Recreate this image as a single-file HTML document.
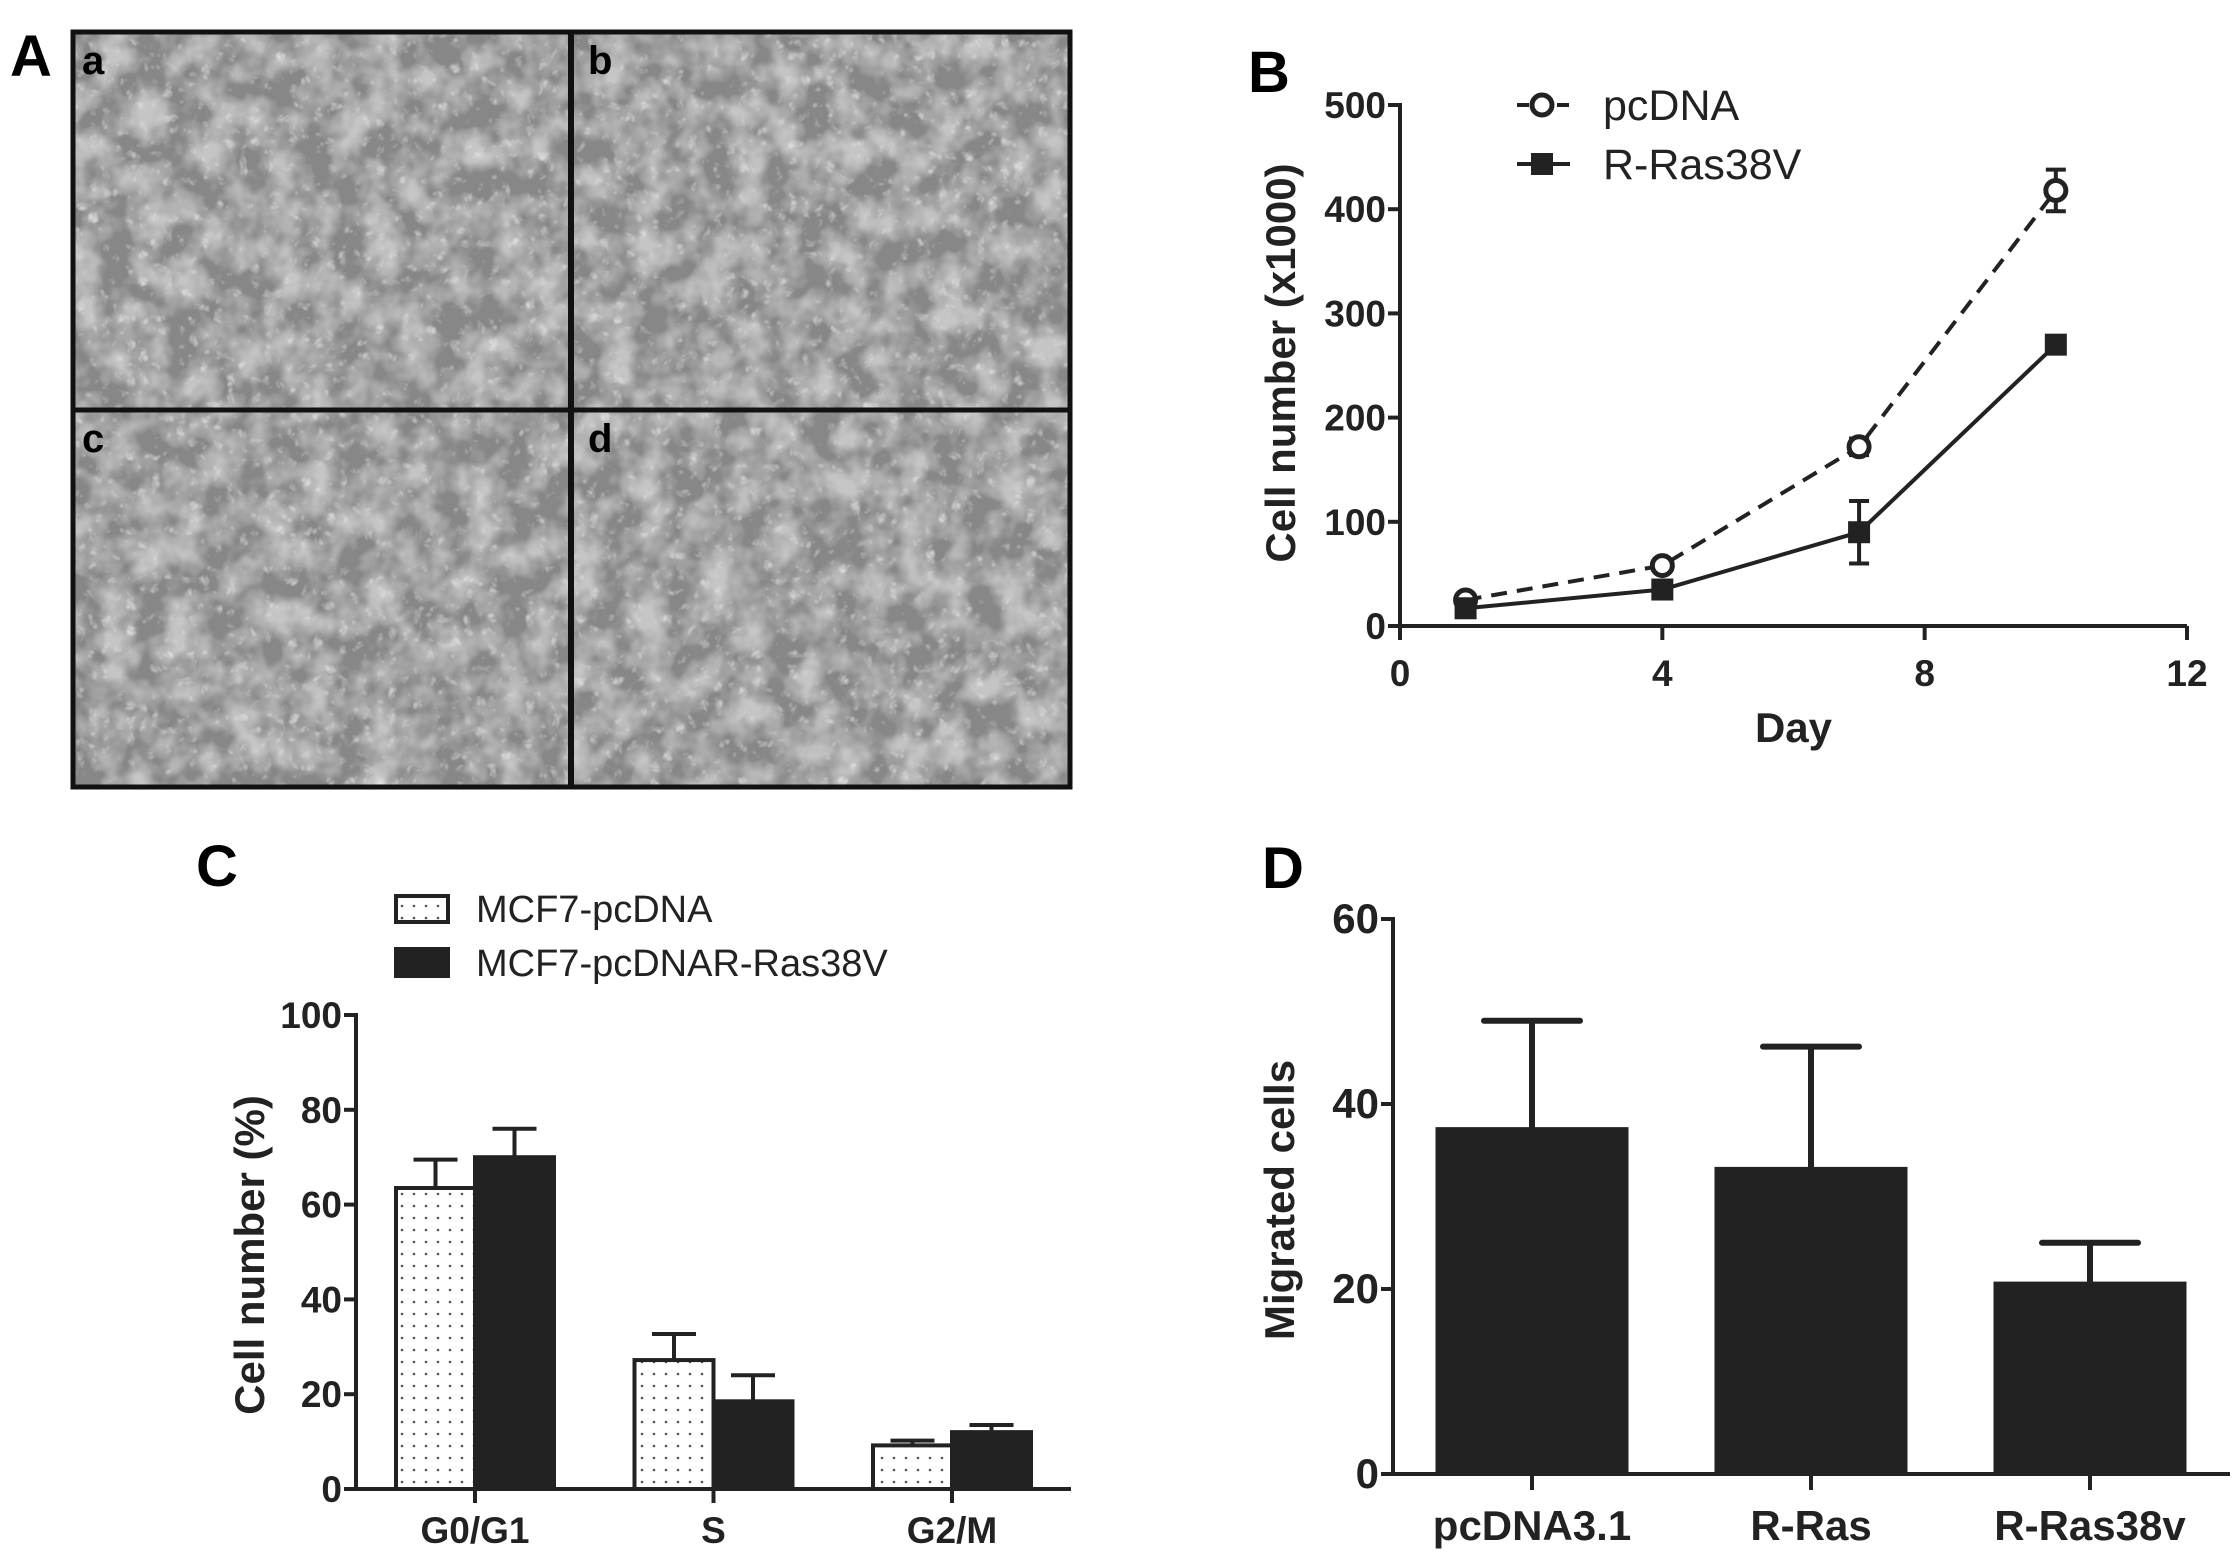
<!DOCTYPE html>
<html><head><meta charset="utf-8"><style>
html,body{margin:0;padding:0;background:#fff}
svg{display:block}
text{font-family:"Liberation Sans Narrow","Liberation Sans",sans-serif;fill:#222}
.tk{font-size:37px;font-weight:bold}
.ttl{font-family:"Liberation Sans",sans-serif;font-size:42px;font-weight:bold}
.lg{font-size:38px;font-weight:normal}
.pl{font-family:"Liberation Sans",sans-serif;font-size:58px;font-weight:bold;fill:#000}
</style></head><body>
<svg id="fig" width="2240" height="1552" viewBox="0 0 2240 1552" xmlns="http://www.w3.org/2000/svg">
<defs>
<filter id="cells" x="0" y="0" width="100%" height="100%">
<feTurbulence type="fractalNoise" baseFrequency="0.03" numOctaves="3" seed="4" result="n"/>
<feColorMatrix in="n" type="matrix" values="0 0 0 0 0.56  0 0 0 0 0.56  0 0 0 0 0.56  2.4 0 0 0 -0.85" result="m"/>
<feComposite in="m" in2="SourceGraphic" operator="over"/>
</filter>
<filter id="cells2" x="0" y="0" width="100%" height="100%">
<feTurbulence type="turbulence" baseFrequency="0.08" numOctaves="2" seed="9" result="n"/>
<feColorMatrix in="n" type="matrix" values="0 0 0 0 0.85  0 0 0 0 0.85  0 0 0 0 0.85  1.5 0 0 0 -0.55"/>
</filter>
<pattern id="dots" width="12" height="12" patternUnits="userSpaceOnUse"><rect width="12" height="12" fill="#fff"/><circle cx="6" cy="6" r="1.3" fill="#555"/></pattern>
</defs>

<g>
<text class="pl" x="10" y="76">A</text>
<g><rect x="73" y="32" width="498" height="378" fill="#878787" filter="url(#cells)"/><rect x="73" y="32" width="498" height="378" filter="url(#cells2)"/></g>
<g><rect x="571" y="32" width="499" height="378" fill="#878787" filter="url(#cells)"/><rect x="571" y="32" width="499" height="378" filter="url(#cells2)"/></g>
<g><rect x="73" y="410" width="498" height="377" fill="#878787" filter="url(#cells)"/><rect x="73" y="410" width="498" height="377" filter="url(#cells2)"/></g>
<g><rect x="571" y="410" width="499" height="377" fill="#878787" filter="url(#cells)"/><rect x="571" y="410" width="499" height="377" filter="url(#cells2)"/></g>
<rect x="73" y="32" width="997" height="755" fill="none" stroke="#111" stroke-width="5"/>
<line x1="571" y1="32" x2="571" y2="787" stroke="#111" stroke-width="6"/>
<line x1="73" y1="410" x2="1070" y2="410" stroke="#111" stroke-width="5"/>
<text class="pl" style="font-size:40px" x="82" y="74">a</text>
<text class="pl" style="font-size:40px" x="588" y="74">b</text>
<text class="pl" style="font-size:40px" x="82" y="452">c</text>
<text class="pl" style="font-size:40px" x="588" y="452">d</text>
</g>

<g id="pb"></g>
<g id="pc"></g>
<g id="pd"></g>
</svg>
<script>
// ---- Panel B data ----
const bDays = [1, 4, 7, 10];
const bPcdna = [25, 58, 172, 418];
const bPcdnaErr = [4, 5, 8, 20];
const bRras = [17, 35, 90, 270];
const bRrasErr = [3, 4, 30, 5];
const bYTicks = [0, 100, 200, 300, 400, 500];
const bXTicks = [0, 4, 8, 12];
// ---- Panel C data ----
const cCats = ["G0/G1", "S", "G2/M"];
const cPcdna = [63.5, 27.2, 9.2];
const cPcdnaErr = [6, 5.5, 1];
const cRras = [70, 18.5, 12];
const cRrasErr = [6, 5.5, 1.5];
const cYTicks = [0, 20, 40, 60, 80, 100];
// ---- Panel D data ----
const dCats = ["pcDNA3.1", "R-Ras", "R-Ras38v"];
const dVals = [37.5, 33.2, 20.8];
const dErr = [11.5, 13, 4.2];
const dYTicks = [0, 20, 40, 60];

const NS = "http://www.w3.org/2000/svg";
function mk(parent, tag, attrs, txt) {
  const e = document.createElementNS(NS, tag);
  for (const k in attrs) e.setAttribute(k, attrs[k]);
  if (txt !== undefined) e.textContent = txt;
  parent.appendChild(e);
  return e;
}
const K = "#222";

// ================= Panel B =================
(function () {
  const g = document.getElementById('pb');
  const X0 = 1400, X1 = 2187, Y0 = 626, Y1 = 105;
  const sx = v => X0 + (v - 0) / 12 * (X1 - X0);
  const sy = v => Y0 - v / 500 * (Y0 - Y1);
  let t = mk(g, 'text', {class: 'pl', x: 1248, y: 92}, 'B');
  
  
  let ax = mk(g, 'path', {d: `M${X0},${Y1 - 2}V${Y0}H${X1}`, fill: 'none', stroke: K, 'stroke-width': 4});
  
  
  bYTicks.forEach(v => {
    mk(g, 'line', {x1: X0 - 12, x2: X0, y1: sy(v), y2: sy(v), stroke: K, 'stroke-width': 4});
    const tl = mk(g, 'text', {class: 'tk', x: X0 - 14, y: sy(v) + 13, 'text-anchor': 'end'}, v);
    
    
  });
  bXTicks.forEach(v => {
    mk(g, 'line', {x1: sx(v), x2: sx(v), y1: Y0, y2: Y0 + 14, stroke: K, 'stroke-width': 4});
    const tl = mk(g, 'text', {class: 'tk', x: sx(v), y: Y0 + 60, 'text-anchor': 'middle'}, v);
    
    
  });
  let xt = mk(g, 'text', {class: 'ttl', x: (X0 + X1) / 2, y: 742, 'text-anchor': 'middle'}, 'Day');
  
  
  let yt = mk(g, 'text', {class: 'ttl', x: 0, y: 0, 'text-anchor': 'middle', transform: 'translate(1295,363) rotate(-90)'}, 'Cell number (x1000)');
  
  
  function series(vals, errs, dashed, name) {
    const sg = mk(g, 'g', {});
    
    
    mk(sg, 'polyline', {points: bDays.map((d, i) => sx(d) + ',' + sy(vals[i])).join(' '), fill: 'none', stroke: K, 'stroke-width': 4, 'stroke-dasharray': dashed ? '16,10' : 'none'});
    bDays.forEach((d, i) => {
      const x = sx(d), yt2 = sy(vals[i] + errs[i]), yb = sy(vals[i] - errs[i]);
      mk(sg, 'path', {d: `M${x},${yt2}V${yb}M${x - 10},${yt2}H${x + 10}M${x - 10},${yb}H${x + 10}`, stroke: K, 'stroke-width': 4, fill: 'none'});
      if (dashed) mk(sg, 'circle', {cx: x, cy: sy(vals[i]), r: 10, fill: '#fff', stroke: K, 'stroke-width': 5});
      else mk(sg, 'rect', {x: x - 11, y: sy(vals[i]) - 11, width: 22, height: 22, fill: K});
    });
  }
  series(bPcdna, bPcdnaErr, true, 'series-pcdna');
  series(bRras, bRrasErr, false, 'series-r-ras38v');
  const lg = mk(g, 'g', {});
  
  
  mk(lg, 'line', {x1: 1517, x2: 1570, y1: 105, y2: 105, stroke: K, 'stroke-width': 4, 'stroke-dasharray': '12,8'});
  mk(lg, 'circle', {cx: 1542, cy: 105, r: 10, fill: '#fff', stroke: K, 'stroke-width': 5});
  mk(lg, 'text', {class: 'lg', x: 1603, y: 120, style: 'font-size:43px'}, 'pcDNA');
  mk(lg, 'line', {x1: 1517, x2: 1570, y1: 164, y2: 164, stroke: K, 'stroke-width': 4});
  mk(lg, 'rect', {x: 1531, y: 153, width: 22, height: 22, fill: K});
  mk(lg, 'text', {class: 'lg', x: 1603, y: 179, style: 'font-size:43px'}, 'R-Ras38V');
})();

// ================= Panel C =================
(function () {
  const g = document.getElementById('pc');
  const X0 = 356, X1 = 1071, Y0 = 1489, Y1 = 1015;
  const sy = v => Y0 - v / 100 * (Y0 - Y1);
  const centers = cCats.map((c, i) => 475 + i * 238.5);
  const bw = 79;
  let t = mk(g, 'text', {class: 'pl', x: 196, y: 886}, 'C');
  
  
  cCats.forEach((c, i) => {
    const cx = centers[i];
    const b1 = mk(g, 'rect', {x: cx - bw, y: sy(cPcdna[i]), width: bw, height: Y0 - sy(cPcdna[i]), fill: 'url(#dots)', stroke: K, 'stroke-width': 4});
    
    
    mk(g, 'path', {d: `M${cx - bw / 2},${sy(cPcdna[i])}V${sy(cPcdna[i] + cPcdnaErr[i])}M${cx - bw / 2 - 22},${sy(cPcdna[i] + cPcdnaErr[i])}H${cx - bw / 2 + 22}`, stroke: K, 'stroke-width': 4, fill: 'none'});
    const b2 = mk(g, 'rect', {x: cx, y: sy(cRras[i]), width: bw, height: Y0 - sy(cRras[i]), fill: K, stroke: K, 'stroke-width': 4});
    
    
    mk(g, 'path', {d: `M${cx + bw / 2},${sy(cRras[i])}V${sy(cRras[i] + cRrasErr[i])}M${cx + bw / 2 - 22},${sy(cRras[i] + cRrasErr[i])}H${cx + bw / 2 + 22}`, stroke: K, 'stroke-width': 4, fill: 'none'});
    mk(g, 'line', {x1: cx, x2: cx, y1: Y0, y2: Y0 + 14, stroke: K, 'stroke-width': 4});
    const tl = mk(g, 'text', {class: 'tk', x: cx, y: Y0 + 54, 'text-anchor': 'middle'}, c);
    
    
  });
  let ax = mk(g, 'path', {d: `M${X0},${Y1 - 2}V${Y0}H${X1}`, fill: 'none', stroke: K, 'stroke-width': 4});
  
  
  cYTicks.forEach(v => {
    mk(g, 'line', {x1: X0 - 12, x2: X0, y1: sy(v), y2: sy(v), stroke: K, 'stroke-width': 4});
    const tl = mk(g, 'text', {class: 'tk', x: X0 - 14, y: sy(v) + 13, 'text-anchor': 'end'}, v);
    
    
  });
  let yt = mk(g, 'text', {class: 'ttl', x: 0, y: 0, 'text-anchor': 'middle', transform: 'translate(264,1255) rotate(-90)'}, 'Cell number (%)');
  
  
  const lg = mk(g, 'g', {});
  
  
  mk(lg, 'rect', {x: 396, y: 896, width: 52, height: 26, fill: 'url(#dots)', stroke: K, 'stroke-width': 4});
  mk(lg, 'text', {class: 'lg', x: 476, y: 922}, 'MCF7-pcDNA');
  mk(lg, 'rect', {x: 396, y: 949, width: 52, height: 27, fill: K, stroke: K, 'stroke-width': 4});
  mk(lg, 'text', {class: 'lg', x: 476, y: 976}, 'MCF7-pcDNAR-Ras38V');
})();

// ================= Panel D =================
(function () {
  const g = document.getElementById('pd');
  const X0 = 1393, X1 = 2230, Y0 = 1474, Y1 = 919;
  const sy = v => Y0 - v / 60 * (Y0 - Y1);
  const centers = dCats.map((c, i) => 1532 + i * 279);
  const bw = 193;
  let t = mk(g, 'text', {class: 'pl', x: 1262, y: 888}, 'D');
  
  
  dCats.forEach((c, i) => {
    const cx = centers[i];
    const b = mk(g, 'rect', {x: cx - bw / 2, y: sy(dVals[i]), width: bw, height: Y0 - sy(dVals[i]), fill: K});
    
    
    const e = mk(g, 'path', {d: `M${cx},${sy(dVals[i])}V${sy(dVals[i] + dErr[i])}M${cx - 48},${sy(dVals[i] + dErr[i])}H${cx + 48}`, stroke: K, 'stroke-width': 6, fill: 'none', 'stroke-linecap': 'round'});
    
    
    mk(g, 'line', {x1: cx, x2: cx, y1: Y0, y2: Y0 + 16, stroke: K, 'stroke-width': 4});
    const tl = mk(g, 'text', {class: 'tk', x: cx, y: Y0 + 66, 'text-anchor': 'middle', style: 'font-size:42px'}, c);
    
    
  });
  let ax = mk(g, 'path', {d: `M${X0},${Y1 - 2}V${Y0}H${X1}`, fill: 'none', stroke: K, 'stroke-width': 4});
  
  
  dYTicks.forEach(v => {
    mk(g, 'line', {x1: X0 - 12, x2: X0, y1: sy(v), y2: sy(v), stroke: K, 'stroke-width': 4});
    const tl = mk(g, 'text', {class: 'tk', x: X0 - 14, y: sy(v) + 14, 'text-anchor': 'end', style: 'font-size:42px'}, v);
    
    
  });
  let yt = mk(g, 'text', {class: 'ttl', x: 0, y: 0, 'text-anchor': 'middle', transform: 'translate(1294,1200) rotate(-90)'}, 'Migrated cells');
  
  
})();
</script>
</body></html>
